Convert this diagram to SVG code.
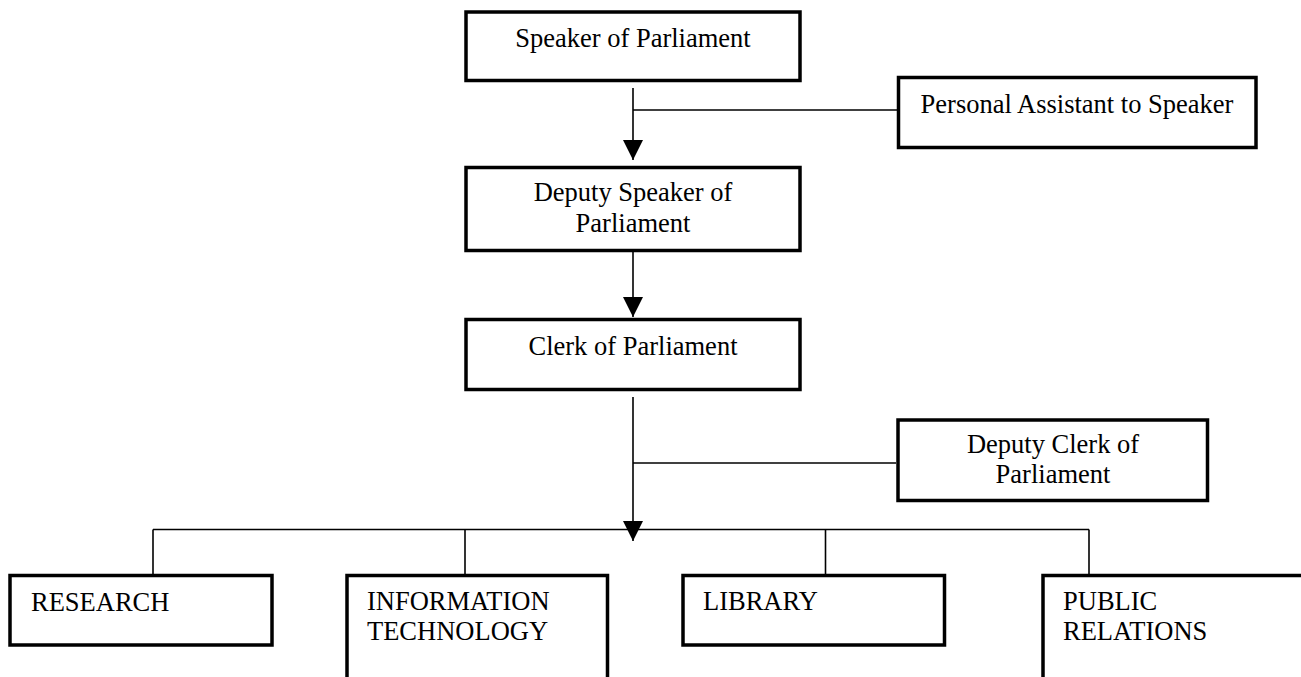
<svg xmlns="http://www.w3.org/2000/svg" width="1301" height="677" viewBox="0 0 1301 677">
<style>
.box{fill:#fff;stroke:#000;stroke-width:3.5}
.open{fill:none;stroke:#000;stroke-width:3.5}
.ln{fill:none;stroke:#000;stroke-width:1.6}
text{font-family:"Liberation Serif","Times New Roman",serif;font-size:26.5px;fill:#000}
.c{text-anchor:middle}
</style>
<defs>
<marker id="arr" markerUnits="userSpaceOnUse" markerWidth="20" markerHeight="20" refX="20" refY="10" orient="auto" viewBox="0 0 20 20">
<path d="M0,0 L20,10 L0,20 Z" fill="#000"/>
</marker>
</defs>
<rect width="1301" height="677" fill="#fff"/>
<g id="connectors">
<line class="ln" x1="633" y1="88" x2="633" y2="160" marker-end="url(#arr)"/>
<line class="ln" x1="633" y1="110" x2="897" y2="110"/>
<line class="ln" x1="633" y1="252" x2="633" y2="317" marker-end="url(#arr)"/>
<line class="ln" x1="633" y1="397" x2="633" y2="541" marker-end="url(#arr)"/>
<line class="ln" x1="633" y1="463" x2="896" y2="463"/>
<line class="ln" x1="153" y1="529.5" x2="1089" y2="529.5"/>
<line class="ln" x1="153" y1="529.5" x2="153" y2="574"/>
<line class="ln" x1="465" y1="529.5" x2="465" y2="574"/>
<line class="ln" x1="825.5" y1="529.5" x2="825.5" y2="574"/>
<line class="ln" x1="1089" y1="529.5" x2="1089" y2="574"/>
</g>
<g id="speaker">
<rect class="box" x="466" y="12" width="334" height="68.5"/>
<text class="c" x="633" y="47">Speaker of Parliament</text>
</g>
<g id="personal-assistant">
<rect class="box" x="898.5" y="77.5" width="357.5" height="70"/>
<text class="c" x="1077" y="113">Personal Assistant to Speaker</text>
</g>
<g id="deputy-speaker">
<rect class="box" x="466" y="167.5" width="334" height="83"/>
<text class="c" x="633" y="201">Deputy Speaker of</text>
<text class="c" x="633" y="232">Parliament</text>
</g>
<g id="clerk">
<rect class="box" x="466" y="319.5" width="334" height="70"/>
<text class="c" x="633" y="355">Clerk of Parliament</text>
</g>
<g id="deputy-clerk">
<rect class="box" x="898" y="420" width="309.5" height="80.5"/>
<text class="c" x="1053" y="453">Deputy Clerk of</text>
<text class="c" x="1053" y="483">Parliament</text>
</g>
<g id="research">
<rect class="box" x="10" y="575.5" width="262" height="69.5"/>
<text x="31" y="611">RESEARCH</text>
</g>
<g id="information-technology">
<path class="open" d="M347,682 L347,575.5 L607.5,575.5 L607.5,682"/>
<text x="367" y="610">INFORMATION</text>
<text x="367" y="640">TECHNOLOGY</text>
</g>
<g id="library">
<rect class="box" x="683" y="575.5" width="261.5" height="69.5"/>
<text x="703" y="610">LIBRARY</text>
</g>
<g id="public-relations">
<path class="open" d="M1043,682 L1043,575.5 L1310,575.5"/>
<text x="1063" y="610">PUBLIC</text>
<text x="1063" y="640">RELATIONS</text>
</g>
</svg>
